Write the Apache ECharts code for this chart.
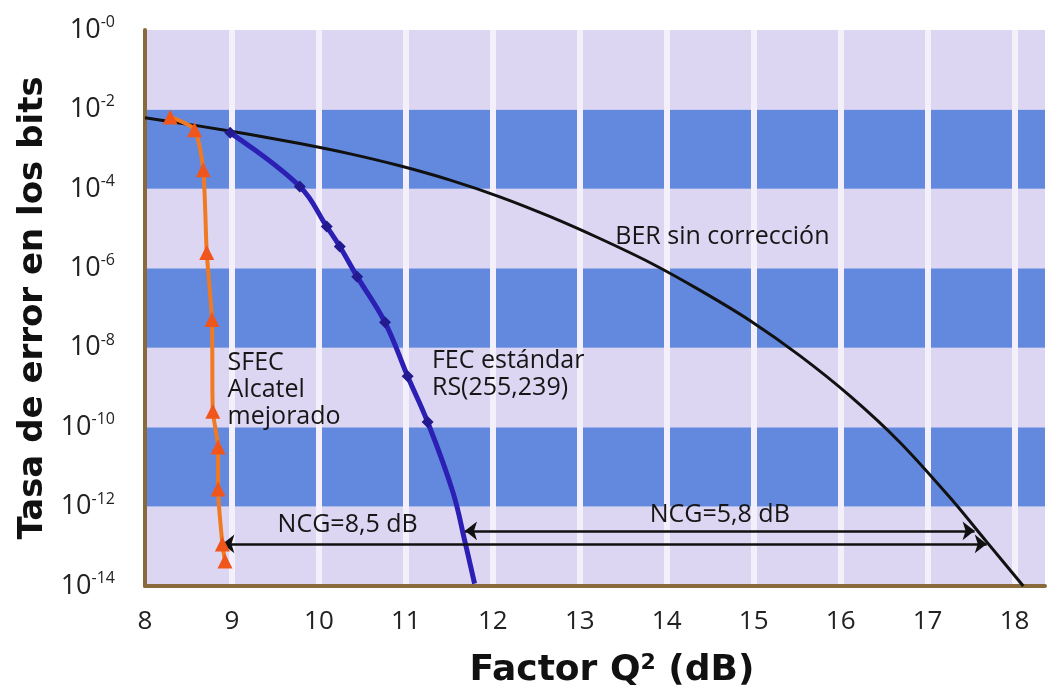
<!DOCTYPE html>
<html>
<head>
<meta charset="utf-8">
<script src="https://cdn.jsdelivr.net/npm/echarts@6/dist/echarts.min.js"></script>
<style>
  html, body { margin: 0; padding: 0; background: #fff; }
  #chart { width: 1062px; height: 694px; }
</style>
</head>
<body>
<div id="chart"></div>
<script>
// valores: [Q2 (dB), log10(BER)]
var berSinCorreccion = [
  [8.00, -2.21], [8.63, -2.42], [9.21, -2.63], [9.78, -2.86], [10.36, -3.12],
  [10.93, -3.42], [11.51, -3.78], [12.08, -4.20], [12.66, -4.70], [13.23, -5.25],
  [13.81, -5.86], [14.38, -6.55], [14.96, -7.32], [15.53, -8.20], [16.11, -9.22],
  [16.68, -10.38], [17.26, -11.78], [17.68, -12.89], [18.10, -14.0]
];
var fecEstandar = [
  [8.98, -2.59], [9.78, -3.94], [10.09, -4.95], [10.24, -5.45], [10.44, -6.21],
  [10.76, -7.36], [11.02, -8.72], [11.25, -9.87], [11.54, -11.63], [11.68, -12.89],
  [11.79, -13.94]
];
var fecMarcas = [true, true, true, true, true, true, true, true, false, false, false];
var sfecAlcatel = [
  [8.29, -2.19], [8.57, -2.51], [8.67, -3.52], [8.71, -5.60], [8.77, -7.29],
  [8.78, -9.60], [8.84, -10.50], [8.84, -11.56], [8.89, -12.94], [8.92, -13.37]
];
// flechas NCG: [x inicio, x fin, log10(BER)]
var ncgFlechas = [
  [8.89, 17.68, -12.94],
  [11.68, 17.54, -12.61]
];
var xTicks = [8, 9, 10, 11, 12, 13, 14, 15, 16, 17, 18];
var yTicks = [0, -2, -4, -6, -8, -10, -12, -14];

var FONT = "'Open Sans', 'DejaVu Sans', sans-serif";
var BOLD = "'DejaVu Sans', sans-serif";
var BROWN = '#8a6a3c';

var chart = echarts.init(document.getElementById('chart'));

var fecData = fecEstandar.map(function (p, i) {
  return fecMarcas[i] ? { value: p } : { value: p, symbol: 'none' };
});

function texto(coord, txt, opts) {
  return {
    coord: coord,
    symbol: 'circle',
    symbolSize: 0,
    label: Object.assign({
      show: true,
      formatter: txt,
      color: '#161616',
      fontFamily: FONT,
      fontSize: 25,
      position: 'inside'
    }, opts || {})
  };
}

var option = {
  backgroundColor: '#ffffff',
  animation: false,
  grid: { left: 145, right: 17, top: 30, bottom: 107, containLabel: false },
  xAxis: {
    type: 'value',
    min: 8,
    max: 18.35,
    interval: 1,
    z: 1,
    axisLine: { show: true, onZero: false, lineStyle: { color: BROWN, width: 4 } },
    axisTick: { show: false },
    axisLabel: {
      margin: 23,
      fontFamily: FONT,
      fontSize: 26,
      color: '#222',
      showMaxLabel: false,
      formatter: function (v) { return xTicks.indexOf(v) >= 0 ? String(v) : ''; }
    },
    splitLine: {
      show: true,
      showMinLine: false,
      showMaxLine: false,
      lineStyle: { color: '#f3f0fb', width: 6 }
    },
    name: 'Factor Q{s|2} (dB)',
    nameLocation: 'middle',
    nameGap: 66,
    nameTextStyle: {
      fontFamily: BOLD,
      fontWeight: 'bold',
      fontSize: 36,
      color: '#111',
      padding: [0, 0, 0, 34],
      rich: {
        s: { fontFamily: BOLD, fontWeight: 'bold', fontSize: 22, color: '#111', padding: [0, 0, 16, 0] }
      }
    }
  },
  yAxis: {
    type: 'value',
    min: -14,
    max: 0,
    interval: 2,
    z: 0,
    axisLine: { show: true, lineStyle: { color: BROWN, width: 4 } },
    axisTick: { show: false },
    axisLabel: {
      margin: 30,
      formatter: function (v) {
        if (yTicks.indexOf(v) < 0) return '';
        return '{b|10}{s|' + (v === 0 ? '-0' : String(v)) + '}';
      },
      rich: {
        b: { fontFamily: FONT, fontSize: 27, color: '#222' },
        s: { fontFamily: FONT, fontSize: 16, color: '#222', padding: [0, 0, 15, 0] }
      }
    },
    splitLine: { show: false },
    splitArea: {
      show: true,
      areaStyle: { color: ['#dcd6f2', '#6389de'] }
    },
    name: 'Tasa de error en los bits',
    nameLocation: 'middle',
    nameGap: 92,
    nameTextStyle: {
      fontFamily: BOLD,
      fontWeight: 'bold',
      fontSize: 34,
      color: '#111'
    }
  },
  series: [
    {
      name: 'BER sin corrección',
      type: 'line',
      data: berSinCorreccion,
      smooth: 0.3,
      showSymbol: false,
      symbol: 'none',
      lineStyle: { color: '#111', width: 3 },
      z: 3,
      markLine: {
        silent: true,
        symbol: ['arrow', 'arrow'],
        symbolSize: [14, 12],
        label: { show: false },
        lineStyle: { color: '#111', width: 2.5, type: 'solid' },
        data: ncgFlechas.map(function (f) {
          return [{ coord: [f[0], f[2]] }, { coord: [f[1], f[2]] }];
        })
      },
      markPoint: {
        silent: true,
        data: [
          texto([14.64, -5.20], 'BER sin corrección'),
          texto([8.95, -9.05], 'SFEC\nAlcatel\nmejorado', { position: 'right', distance: 0, lineHeight: 27 }),
          texto([11.30, -8.67], 'FEC estándar\nRS(255,239)', { position: 'right', distance: 0, lineHeight: 27 }),
          texto([10.33, -12.46], 'NCG=8,5 dB'),
          texto([14.61, -12.21], 'NCG=5,8 dB')
        ]
      }
    },
    {
      name: 'FEC estándar RS(255,239)',
      type: 'line',
      data: fecData,
      smooth: 0.4,
      symbol: 'diamond',
      symbolSize: 12,
      showAllSymbol: true,
      itemStyle: { color: '#231a90' },
      lineStyle: { color: '#2c20b4', width: 5 },
      z: 4
    },
    {
      name: 'SFEC Alcatel mejorado',
      type: 'line',
      data: sfecAlcatel,
      smooth: 0.2,
      symbol: 'triangle',
      symbolSize: 15,
      showAllSymbol: true,
      itemStyle: { color: '#f0561c' },
      lineStyle: { color: '#f07a22', width: 4 },
      z: 5
    }
  ]
};

chart.setOption(option);
</script>
</body>
</html>
